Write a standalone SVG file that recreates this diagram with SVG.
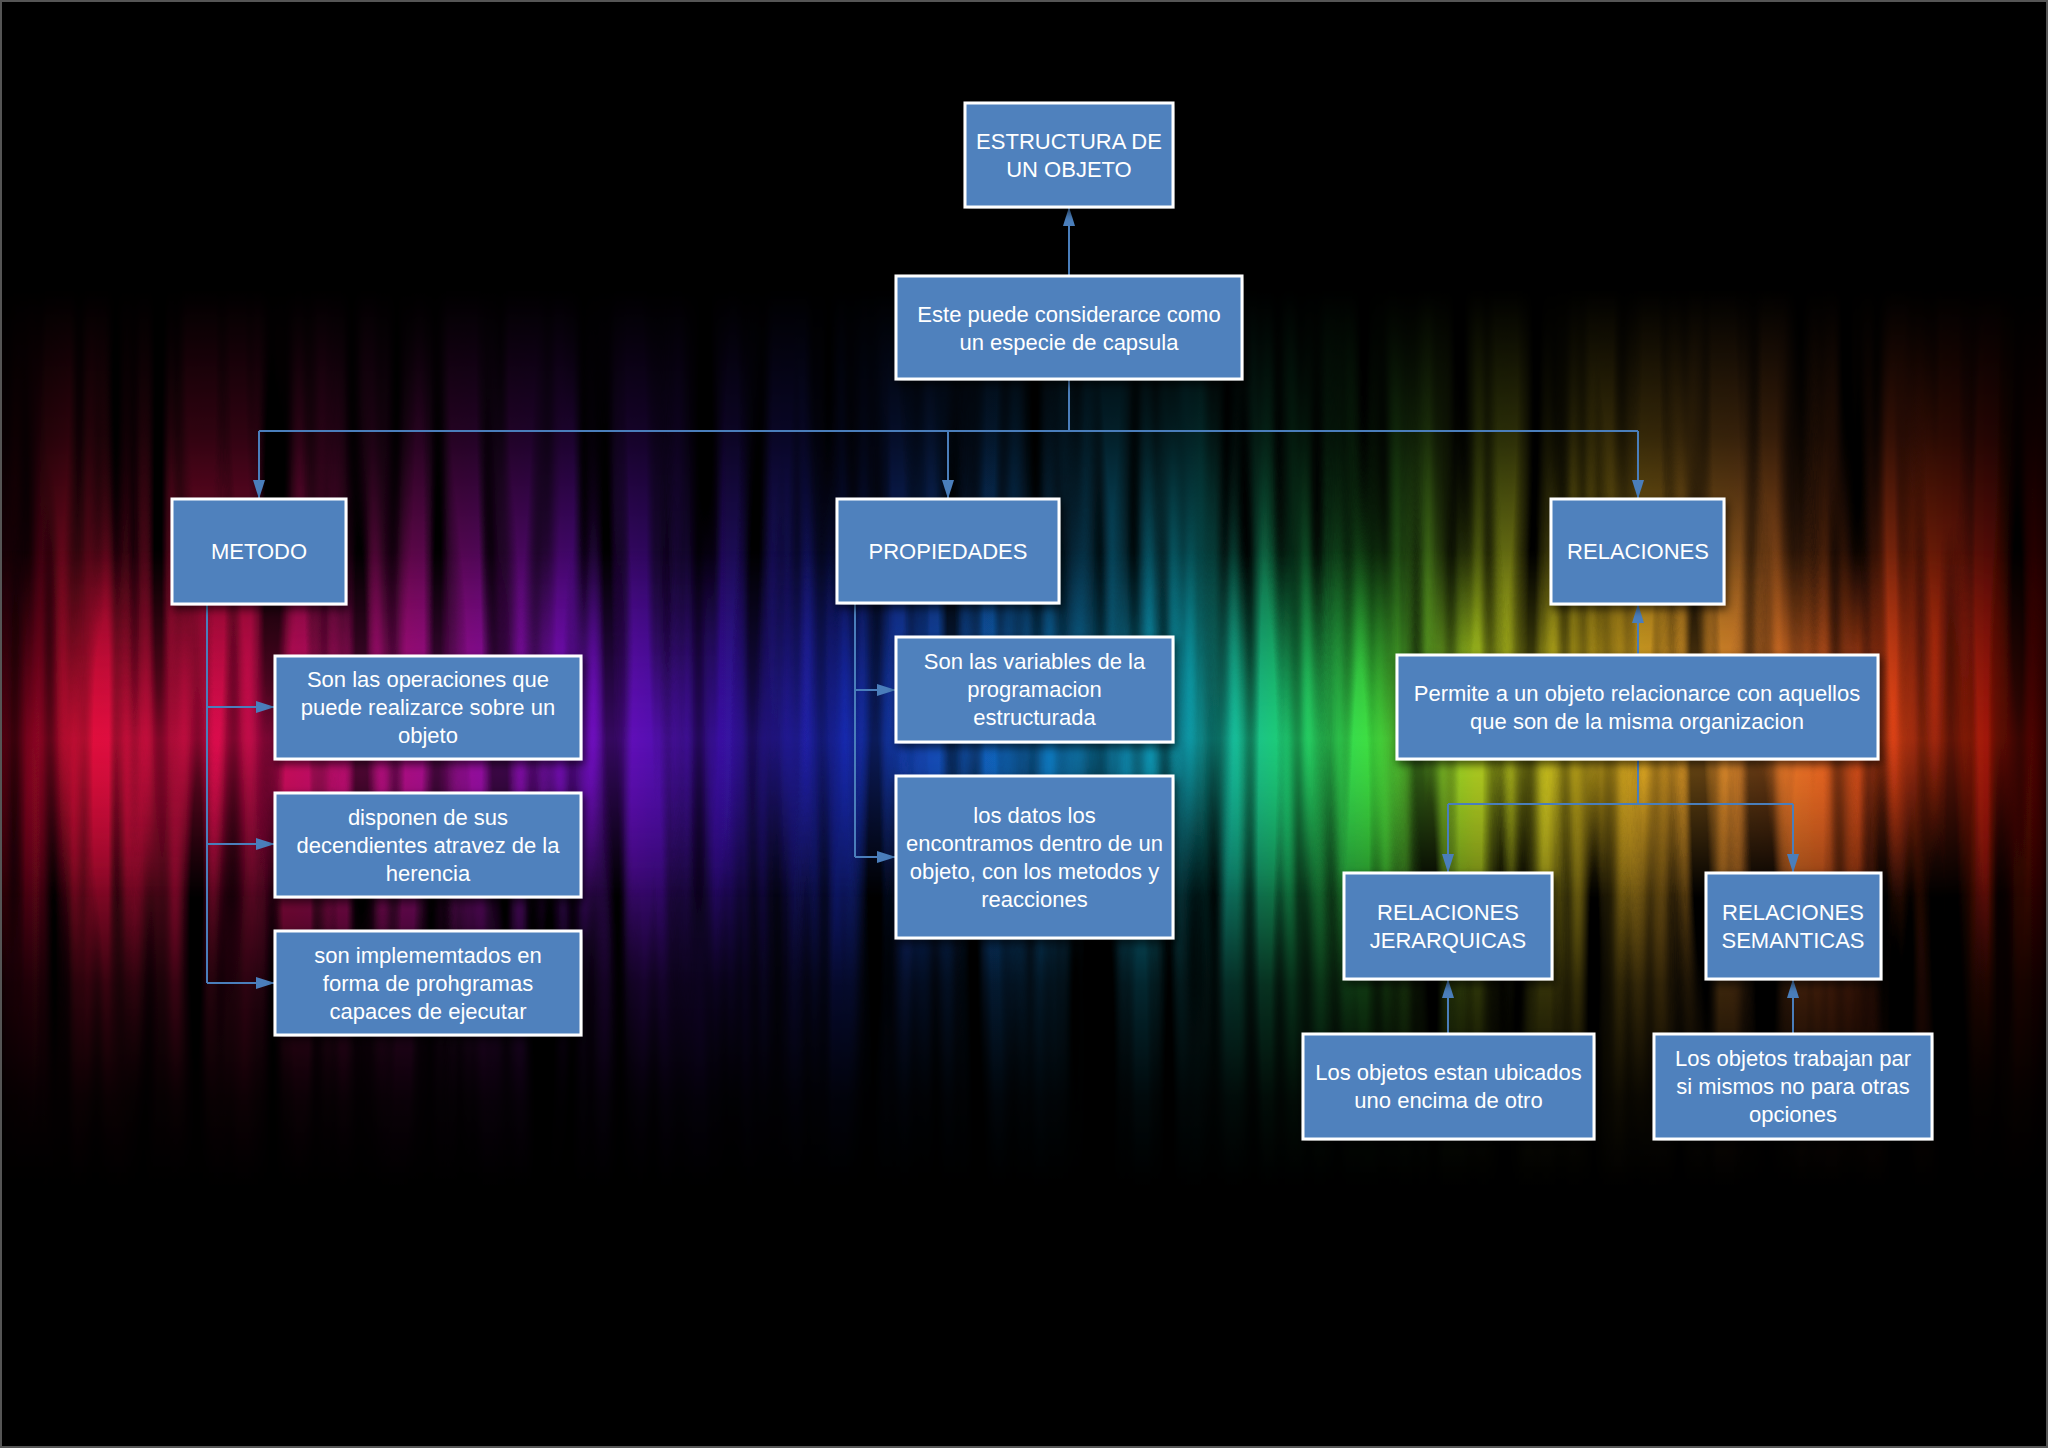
<svg xmlns="http://www.w3.org/2000/svg" width="2048" height="1448" viewBox="0 0 2048 1448">
<defs>
  <linearGradient id="rainbow" x1="0" y1="0" x2="2048" y2="0" gradientUnits="userSpaceOnUse">
    <stop offset="0" stop-color="#500010"/>
    <stop offset="0.04" stop-color="#e0103c"/>
    <stop offset="0.12" stop-color="#d80c50"/>
    <stop offset="0.2" stop-color="#b0108a"/>
    <stop offset="0.28" stop-color="#7a10c8"/>
    <stop offset="0.35" stop-color="#3a10a0"/>
    <stop offset="0.41" stop-color="#1828b0"/>
    <stop offset="0.5" stop-color="#1070c0"/>
    <stop offset="0.58" stop-color="#10a8b8"/>
    <stop offset="0.63" stop-color="#20d070"/>
    <stop offset="0.67" stop-color="#40e040"/>
    <stop offset="0.72" stop-color="#b0d020"/>
    <stop offset="0.78" stop-color="#e8c020"/>
    <stop offset="0.85" stop-color="#f09030"/>
    <stop offset="0.92" stop-color="#e84818"/>
    <stop offset="0.97" stop-color="#a01808"/>
    <stop offset="1" stop-color="#300000"/>
  </linearGradient>
  <linearGradient id="vfade" x1="0" y1="0" x2="0" y2="1448" gradientUnits="userSpaceOnUse">
    <stop offset="0.2" stop-color="#fff" stop-opacity="0"/>
    <stop offset="0.3" stop-color="#fff" stop-opacity="0.22"/>
    <stop offset="0.42" stop-color="#fff" stop-opacity="0.65"/>
    <stop offset="0.51" stop-color="#fff" stop-opacity="1"/>
    <stop offset="0.6" stop-color="#fff" stop-opacity="0.65"/>
    <stop offset="0.68" stop-color="#fff" stop-opacity="0.25"/>
    <stop offset="0.76" stop-color="#fff" stop-opacity="0.06"/>
    <stop offset="0.82" stop-color="#fff" stop-opacity="0"/>
  </linearGradient>
  <linearGradient id="vband" x1="0" y1="0" x2="0" y2="1448" gradientUnits="userSpaceOnUse">
    <stop offset="0.38" stop-color="#fff" stop-opacity="0"/>
    <stop offset="0.51" stop-color="#fff" stop-opacity="0.5"/>
    <stop offset="0.62" stop-color="#fff" stop-opacity="0"/>
  </linearGradient>
  <mask id="vmask">
    <rect x="0" y="0" width="2048" height="1448" fill="url(#vfade)"/>
  </mask>
  <mask id="bmask">
    <rect x="0" y="0" width="2048" height="1448" fill="url(#vband)"/>
  </mask>
  <filter id="streaks" x="0" y="0" width="100%" height="100%">
    <feTurbulence type="fractalNoise" baseFrequency="0.035 0.0015" numOctaves="2" seed="7" result="n"/>
    <feColorMatrix in="n" type="matrix" values="0 0 0 0 0  0 0 0 0 0  0 0 0 0 0  3 0 0 0 -0.9" result="a"/>
    <feComposite in="SourceGraphic" in2="a" operator="in"/>
  </filter>
  <filter id="shadow" x="-10%" y="-10%" width="130%" height="140%">
    <feDropShadow dx="2" dy="4" stdDeviation="4" flood-color="#000" flood-opacity="0.6"/>
  </filter>
  <marker id="arr" markerUnits="userSpaceOnUse" markerWidth="19" markerHeight="12" refX="19" refY="6" orient="auto">
    <path d="M0,0 L19,6 L0,12 z" fill="#4a7ebb"/>
  </marker>
  <style>
    .box { fill: #4f81bd; stroke: #ffffff; stroke-width: 3; filter: url(#shadow); }
    .t { font-family: "Liberation Sans", Arial, sans-serif; font-size: 22px; fill: #ffffff; text-anchor: middle; }
    .c { fill: none; stroke: #4a7ebb; stroke-width: 2; }
    .ca { fill: none; stroke: #4a7ebb; stroke-width: 2; marker-end: url(#arr); }
  </style>
</defs>

<rect x="0" y="0" width="2048" height="1448" fill="#000"/>
<g mask="url(#vmask)">
  <rect x="0" y="0" width="2048" height="1448" fill="url(#rainbow)" filter="url(#streaks)"/>
</g>
<g mask="url(#bmask)">
  <rect x="0" y="0" width="2048" height="1448" fill="url(#rainbow)"/>
</g>
<rect x="1" y="1" width="2046" height="1446" fill="none" stroke="#555" stroke-width="2"/>

<g id="connectors">
  <path class="ca" d="M1069,276 L1069,207"/>
  <path class="c" d="M1069,379 L1069,431"/>
  <path class="c" d="M259,431 L1638,431"/>
  <path class="ca" d="M259,431 L259,499"/>
  <path class="ca" d="M948,431 L948,499"/>
  <path class="ca" d="M1638,431 L1638,499"/>
  <path class="c" d="M207,604 L207,983"/>
  <path class="ca" d="M207,707 L275,707"/>
  <path class="ca" d="M207,844 L275,844"/>
  <path class="ca" d="M207,983 L275,983"/>
  <path class="c" d="M948,603 L855,603 L855,857"/>
  <path class="ca" d="M855,690 L896,690"/>
  <path class="ca" d="M855,857 L896,857"/>
  <path class="ca" d="M1638,655 L1638,604"/>
  <path class="c" d="M1638,759 L1638,804"/>
  <path class="c" d="M1448,804 L1793,804"/>
  <path class="ca" d="M1448,804 L1448,873"/>
  <path class="ca" d="M1793,804 L1793,873"/>
  <path class="ca" d="M1448,1034 L1448,979"/>
  <path class="ca" d="M1793,1034 L1793,979"/>
</g>

<g id="n-estructura">
  <rect class="box" x="965" y="103" width="208" height="104"/>
  <text class="t" x="1069" y="149">ESTRUCTURA DE</text>
  <text class="t" x="1069" y="177">UN OBJETO</text>
</g>
<g id="n-capsula">
  <rect class="box" x="896" y="276" width="346" height="103"/>
  <text class="t" x="1069" y="322">Este puede considerarce como</text>
  <text class="t" x="1069" y="350">un especie de capsula</text>
</g>
<g id="n-metodo">
  <rect class="box" x="172" y="499" width="174" height="105"/>
  <text class="t" x="259" y="559">METODO</text>
</g>
<g id="n-propiedades">
  <rect class="box" x="837" y="499" width="222" height="104"/>
  <text class="t" x="948" y="559">PROPIEDADES</text>
</g>
<g id="n-relaciones">
  <rect class="box" x="1551" y="499" width="173" height="105"/>
  <text class="t" x="1638" y="559">RELACIONES</text>
</g>
<g id="n-operaciones">
  <rect class="box" x="275" y="656" width="306" height="103"/>
  <text class="t" x="428" y="687">Son las operaciones que</text>
  <text class="t" x="428" y="715">puede realizarce sobre un</text>
  <text class="t" x="428" y="743">objeto</text>
</g>
<g id="n-disponen">
  <rect class="box" x="275" y="793" width="306" height="104"/>
  <text class="t" x="428" y="825">disponen de sus</text>
  <text class="t" x="428" y="853">decendientes atravez de la</text>
  <text class="t" x="428" y="881">herencia</text>
</g>
<g id="n-implementados">
  <rect class="box" x="275" y="931" width="306" height="104"/>
  <text class="t" x="428" y="963">son implememtados en</text>
  <text class="t" x="428" y="991">forma de prohgramas</text>
  <text class="t" x="428" y="1019">capaces de ejecutar</text>
</g>
<g id="n-variables">
  <rect class="box" x="896" y="637" width="277" height="105"/>
  <text class="t" x="1034.5" y="669">Son las variables de la</text>
  <text class="t" x="1034.5" y="697">programacion</text>
  <text class="t" x="1034.5" y="725">estructurada</text>
</g>
<g id="n-datos">
  <rect class="box" x="896" y="776" width="277" height="162"/>
  <text class="t" x="1034.5" y="823">los datos los</text>
  <text class="t" x="1034.5" y="851">encontramos dentro de un</text>
  <text class="t" x="1034.5" y="879">objeto, con los metodos y</text>
  <text class="t" x="1034.5" y="907">reacciones</text>
</g>
<g id="n-permite">
  <rect class="box" x="1397" y="655" width="481" height="104"/>
  <text class="t" x="1637" y="701">Permite a un objeto relacionarce con aquellos</text>
  <text class="t" x="1637" y="729">que son de la misma organizacion</text>
</g>
<g id="n-jerarquicas">
  <rect class="box" x="1344" y="873" width="208" height="106"/>
  <text class="t" x="1448" y="920">RELACIONES</text>
  <text class="t" x="1448" y="948">JERARQUICAS</text>
</g>
<g id="n-semanticas">
  <rect class="box" x="1706" y="873" width="175" height="106"/>
  <text class="t" x="1793" y="920">RELACIONES</text>
  <text class="t" x="1793" y="948">SEMANTICAS</text>
</g>
<g id="n-ubicados">
  <rect class="box" x="1303" y="1034" width="291" height="105"/>
  <text class="t" x="1448.5" y="1080">Los objetos estan ubicados</text>
  <text class="t" x="1448.5" y="1108">uno encima de otro</text>
</g>
<g id="n-trabajan">
  <rect class="box" x="1654" y="1034" width="278" height="105"/>
  <text class="t" x="1793" y="1066">Los objetos trabajan par</text>
  <text class="t" x="1793" y="1094">si mismos no para otras</text>
  <text class="t" x="1793" y="1122">opciones</text>
</g>
</svg>
